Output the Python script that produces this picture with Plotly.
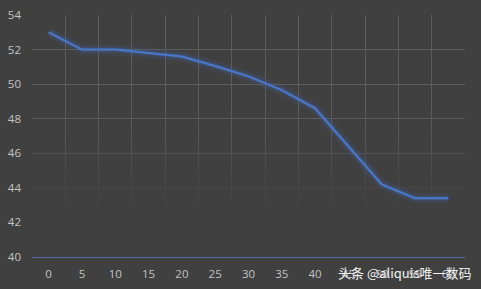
import plotly.graph_objects as go

categories = ["0", "5", "10", "15", "20", "25", "30", "35", "40", "45", "50", "55", "60"]
values = [53.0, 52.0, 52.0, 51.8, 51.6, 51.05, 50.45, 49.65, 48.6, 46.4, 44.2, 43.4, 43.4]
y_ticks = [40, 42, 44, 46, 48, 50, 52, 54]

BG = "#404040"
GRID = "#5c5c5c"
TXT = "#c4c4c4"
BLUE = "#4472C4"

idx = list(range(len(categories)))
n = len(categories)

fig = go.Figure()

# fade of gridlines toward the bottom
fig.add_trace(go.Scatter(
    x=[-0.5, n - 0.5, n - 0.5, -0.5, -0.5],
    y=[40, 40, 49, 49, 40],
    mode="lines", line=dict(width=0), fill="toself",
    fillgradient=dict(type="vertical", start=42.5, stop=48.5,
                      colorscale=[[0, "rgba(64,64,64,1)"], [1, "rgba(64,64,64,0)"]]),
    hoverinfo="skip", showlegend=False,
))

# glow layers
for w, a in [(11, 0.07), (7, 0.12), (4, 0.22)]:
    fig.add_trace(go.Scatter(x=idx, y=values, mode="lines",
                             line=dict(color=f"rgba(68,114,196,{a})", width=w),
                             hoverinfo="skip", showlegend=False))
fig.add_trace(go.Scatter(x=idx, y=values, mode="lines",
                         line=dict(color="#4a78cc", width=2), showlegend=False))

fig.update_layout(
    width=481, height=289,
    margin=dict(l=32, r=16, t=15, b=32),
    paper_bgcolor=BG, plot_bgcolor=BG,
    font=dict(family="Open Sans, DejaVu Sans, sans-serif", size=11.5, color=TXT),
    xaxis=dict(
        range=[-0.5, n - 0.5], tickmode="array", tickvals=idx, ticktext=categories,
        showgrid=False, zeroline=False, ticks="", ticklabelstandoff=6, automargin=False,
        showline=True, linecolor="#4d6ea8", linewidth=1,
        minor=dict(tickmode="array", tickvals=[i - 0.5 for i in range(n + 1)],
                   showgrid=True, gridcolor=GRID, gridwidth=1, ticks=""),
        fixedrange=True,
    ),
    yaxis=dict(
        range=[40, 54], tickmode="array", tickvals=y_ticks,
        showgrid=True, gridcolor=GRID, gridwidth=1, zeroline=False, automargin=False,
        ticks="", ticklabelstandoff=10, fixedrange=True,
    ),
    annotations=[dict(
        text="头条 @aliquis唯一数码", x=1.018, xref="paper", y=-0.066, yref="paper",
        xanchor="right", yanchor="middle", showarrow=False,
        font=dict(family="Noto Sans CJK SC", size=13, color="#f2f2f2"),
    )],
)

fig.write_html("out.html")
